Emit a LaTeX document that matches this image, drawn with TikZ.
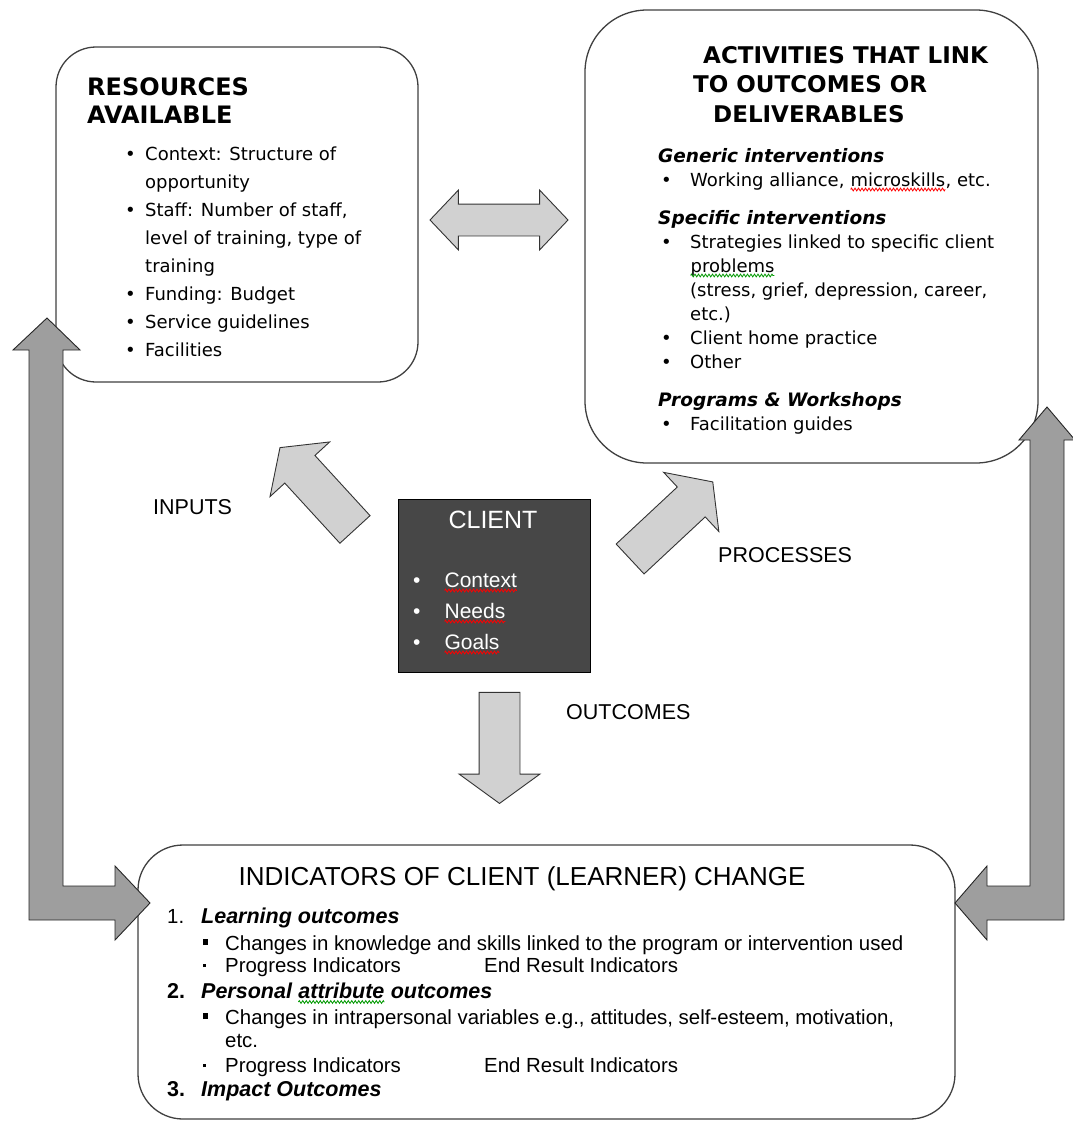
\documentclass[tikz,border=0pt]{standalone}
\usepackage{fontspec}
\setmainfont{DejaVu Sans}
\newfontfamily\arialfont{Liberation Sans}
\usetikzlibrary{shapes.arrows,positioning,decorations.pathmorphing}

\newcommand{\setfs}[2]{\fontsize{#1}{#2}\selectfont}
\newcommand{\bul}{\makebox[20pt][l]{•}}
\newcommand{\sqbul}{\makebox[22pt][l]{\raisebox{5pt}{\rule{5pt}{6pt}}}}
\newcommand{\dotbul}{\makebox[22pt][l]{\raisebox{5pt}{\rule{3pt}{3pt}}}}
\newcommand{\wavy}[2]{\tikz[baseline=(w.base)]{\node[inner sep=0pt, outer sep=0pt] (w) {#2};
  \draw[#1, line width=0.8pt, decorate, decoration={zigzag, amplitude=1.4pt, segment length=3.5pt}] ([yshift=-3.5pt]w.base west) -- ([yshift=-3.5pt]w.base east);}}

\begin{document}
\begin{tikzpicture}[x=1pt, y=-1pt,
roundbox/.style={rectangle, draw=black!75, line width=1.3pt, fill=white, inner sep=0pt},
clientbox/.style={rectangle, draw=black, line width=1pt, fill=black!72, inner sep=0pt},
lightarrow/.style={single arrow, draw=black!80, line width=0.9pt, fill=black!18, inner sep=0pt, inner ysep=20pt, single arrow head extend=20pt, single arrow tip angle=108},
linkarrow/.style={double arrow, draw=black!80, line width=0.9pt, fill=black!18, inner sep=0pt, inner ysep=15.5pt, double arrow head extend=14pt, double arrow tip angle=93},
bigarrow/.style={draw=black!85, line width=0.9pt, fill=black!38},
flowlabel/.style={anchor=west, inner sep=0pt, font=\arialfont\setfs{21.5}{26}},
textblock/.style={anchor=base west, inner sep=0pt, align=left},
]
\useasboundingbox (0,0) rectangle (1073,1122);

%Boxes
\node[roundbox, rounded corners=40pt, minimum width=362pt, minimum height=335pt] (resources) at (237,214.5) {};
\node[roundbox, rounded corners=62pt, minimum width=453pt, minimum height=453pt] (activities) at (811.5,236.5) {};
\node[roundbox, rounded corners=45pt, minimum width=817pt, minimum height=274pt] (indicators) at (546.5,982) {};
\node[clientbox, minimum width=192pt, minimum height=173pt] (client) at (494,585.5) {};

%Arrows
\node[lightarrow, minimum height=111pt, rotate=132.5] (inputsarrow) at (322.5,494) {};
\node[lightarrow, minimum height=113pt, rotate=43] (processesarrow) at (666,525.5) {};
\node[lightarrow, minimum height=111pt, rotate=-90] (outcomesarrow) at (499.5,740.5) {};
\node[linkarrow, minimum height=138pt] (resactarrow) at (499,220) {};
\draw[bigarrow] (47,318) -- (80,350) -- (63,350) -- (63,886) -- (115,886) -- (115,866) -- (150,903) -- (115,940) -- (115,920) -- (29,920) -- (29,350) -- (13,350) -- cycle;
\draw[bigarrow] (1047,407) -- (1075,440) -- (1064,440) -- (1064,920) -- (987,920) -- (987,940) -- (955,903) -- (987,866) -- (987,886) -- (1030,886) -- (1030,440) -- (1019,440) -- cycle;

%Resources text (anchored at the last baseline)
\node[textblock, font=\bfseries\setfs{24}{28}] (restitle) at (87,123) {RESOURCES\\AVAILABLE};
\node[textblock, font=\setfs{18}{28}] (resitems) at (125,356.5) {\bul Context: Structure of\\
\hspace*{20pt}opportunity\\
\bul Staff: Number of staff,\\
\hspace*{20pt}level of training, type of\\
\hspace*{20pt}training\\
\bul Funding: Budget\\
\bul Service guidelines\\
\bul Facilities};

%Activities text
\node[textblock, font=\bfseries\setfs{23}{29.5}] (acttitle) at (693,122) {\hspace*{10pt}ACTIVITIES THAT LINK\\TO OUTCOMES OR\\\hspace*{20pt}DELIVERABLES};
\node[textblock, font=\setfs{18}{24}] (actitems) at (658,430) {{\bfseries\itshape\setfs{18.5}{24}Generic interventions}\\
\hspace*{3pt}\makebox[29pt][l]{•}Working alliance, \wavy{red}{microskills}, etc.\\[14pt]
{\bfseries\itshape\setfs{18.5}{24}Specific interventions}\\
\hspace*{3pt}\makebox[29pt][l]{•}Strategies linked to specific client\\
\hspace*{32pt}\wavy{green!60!black}{problems}\\
\hspace*{32pt}(stress, grief, depression, career,\\
\hspace*{32pt}etc.)\\
\hspace*{3pt}\makebox[29pt][l]{•}Client home practice\\
\hspace*{3pt}\makebox[29pt][l]{•}Other\\[14pt]
{\bfseries\itshape\setfs{18.5}{24}Programs \& Workshops}\\
\hspace*{3pt}\makebox[29pt][l]{•}Facilitation guides};

%Client text
\node[inner sep=0pt, text=white, font=\arialfont\setfs{25}{30}] (clienttitle) at (493,520) {CLIENT};
\node[textblock, text=white, font=\arialfont\setfs{21}{31}] (clientitems) at (413,649) {\makebox[31pt][l]{•}\wavy{red}{Context}\\
\makebox[31pt][l]{•}\wavy{red}{Needs}\\
\makebox[31pt][l]{•}\wavy{red}{Goals}};

%Labels
\node[flowlabel] (inputs) at (153,507) {INPUTS};
\node[flowlabel] (processes) at (718,555) {PROCESSES};
\node[flowlabel] (outcomes) at (566,712) {OUTCOMES};

%Indicators text
\node[anchor=base, inner sep=0pt, font=\arialfont\setfs{26}{30}] (indtitle) at (522,885) {INDICATORS OF CLIENT (LEARNER) CHANGE};
\node[textblock, font=\arialfont\setfs{20.4}{24}] (inditems) at (167,1096.5) {\makebox[34pt][l]{1.}{\bfseries\itshape\setfs{21.5}{24}Learning outcomes}\\[2.5pt]
\hspace*{36pt}\sqbul Changes in knowledge and skills linked to the program or intervention used\\[-2pt]
\hspace*{36pt}\dotbul\makebox[259pt][l]{Progress Indicators}End Result Indicators\\[2.5pt]
{\bfseries\setfs{21.5}{24}\makebox[34pt][l]{2.}\itshape Personal \wavy{green!60!black}{attribute} outcomes}\\[1.5pt]
\hspace*{36pt}\sqbul Changes in intrapersonal variables e.g., attitudes, self-esteem, motivation,\\[-1pt]
\hspace*{58pt}etc.\\[1pt]
\hspace*{36pt}\dotbul\makebox[259pt][l]{Progress Indicators}End Result Indicators\\[0.5pt]
{\bfseries\setfs{21.5}{24}\makebox[34pt][l]{3.}\itshape Impact Outcomes}};
\end{tikzpicture}
\end{document}
